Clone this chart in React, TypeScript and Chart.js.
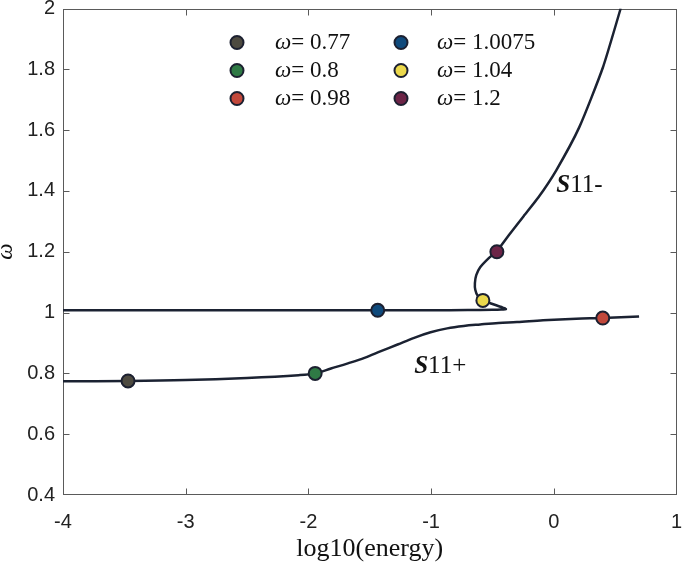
import React, { useEffect, useRef } from 'react';
import { Chart, registerables } from 'chart.js';

Chart.register(...registerables);

// Upper branch (S11-): horizontal at ω≈1.0075, folds back near log10(E)≈-0.4 and rises
const upperX = [-4, -3, -2, -1.435, -1, -0.7, -0.5, -0.43, -0.39, -0.42, -0.5, -0.578, -0.62, -0.64, -0.643, -0.632, -0.6, -0.53, -0.464, -0.367, -0.246, -0.125, 0.02, 0.207, 0.4, 0.545];
const upperY = [1.0075, 1.0075, 1.0075, 1.0075, 1.0078, 1.0082, 1.009, 1.0098, 1.0115, 1.017, 1.028, 1.04, 1.055, 1.075, 1.097, 1.123, 1.149, 1.179, 1.202, 1.254, 1.317, 1.379, 1.468, 1.609, 1.806, 2.0];

// Lower branch (S11+)
const lowerX = [-4, -3.47, -3, -2.5, -2.08, -1.945, -1.816, -1.678, -1.543, -1.409, -1.273, -1.138, -1.004, -0.869, -0.734, -0.6, -0.45, -0.3, -0.087, 0.183, 0.399, 0.695];
const lowerY = [0.774, 0.775, 0.778, 0.785, 0.794, 0.8, 0.816, 0.833, 0.851, 0.873, 0.895, 0.917, 0.935, 0.948, 0.956, 0.961, 0.966, 0.969, 0.975, 0.98, 0.982, 0.987];

// Highlighted points
const markerLabels = ['0.77', '0.8', '0.98', '1.0075', '1.04', '1.2'];
const markerX = [-3.47, -1.945, 0.399, -1.435, -0.578, -0.464];
const markerY = [0.775, 0.8, 0.982, 1.0075, 1.04, 1.2];
const markerColors = ['#4d4a40', '#2f7a45', '#c2483b', '#0f4a7c', '#ebd84c', '#6c2447'];

const xTicks = [-4, -3, -2, -1, 0, 1];
const yTicks = [0.4, 0.6, 0.8, 1, 1.2, 1.4, 1.6, 1.8, 2];

const curveLabels = [
  { bold: 'S', rest: '11-', x: 0.02, y: 1.396 },
  { bold: 'S', rest: '11+', x: -1.138, y: 0.8 },
];

const LINE = '#1b2232';
const EDGE = '#1c2030';
const TEXT = '#222222';
const SERIF = '"Liberation Serif", "Times New Roman", serif';
const SANS = '"Liberation Sans", Arial, sans-serif';

const framePlugin = {
  id: 'frame',
  beforeDatasetsDraw(chart: any) {
    const { ctx, chartArea: a } = chart;
    const xs = chart.scales.x;
    const ys = chart.scales.y;
    const L = Math.round(a.left) + 0.5;
    const R = Math.round(a.right) - 0.5;
    const T = Math.round(a.top) + 0.5;
    const B = Math.round(a.bottom) - 0.5;
    ctx.save();
    ctx.strokeStyle = '#5a5a5a';
    ctx.lineWidth = 1;
    ctx.strokeRect(L, T, R - L, B - T);
    ctx.beginPath();
    for (const v of xTicks) {
      const p = Math.round(xs.getPixelForValue(v)) + 0.5;
      if (p <= L + 1 || p >= R - 1) continue;
      ctx.moveTo(p, B); ctx.lineTo(p, B - 6);
      ctx.moveTo(p, T); ctx.lineTo(p, T + 6);
    }
    for (const v of yTicks) {
      const p = Math.round(ys.getPixelForValue(v)) + 0.5;
      if (p <= T + 1 || p >= B - 1) continue;
      ctx.moveTo(L, p); ctx.lineTo(L + 6, p);
      ctx.moveTo(R, p); ctx.lineTo(R - 6, p);
    }
    ctx.stroke();
    ctx.restore();
  },
};

const overlayPlugin = {
  id: 'overlay',
  afterDraw(chart: any) {
    const { ctx } = chart;
    const xs = chart.scales.x;
    const ys = chart.scales.y;
    ctx.save();
    // legend (2 columns x 3 rows, column-wise)
    const colMarkerX = [237, 401];
    const colTextX = [275, 437];
    const rowY = [42.5, 70.5, 98.5];
    ctx.textBaseline = 'middle';
    markerLabels.forEach((lab, i) => {
      const col = Math.floor(i / 3);
      const row = i % 3;
      const cx = colMarkerX[col];
      const cy = rowY[row];
      ctx.beginPath();
      ctx.arc(cx, cy, 6.5, 0, Math.PI * 2);
      ctx.fillStyle = markerColors[i];
      ctx.fill();
      ctx.lineWidth = 2;
      ctx.strokeStyle = EDGE;
      ctx.stroke();
      let tx = colTextX[col];
      ctx.fillStyle = '#111';
      ctx.textAlign = 'left';
      ctx.font = `italic 23px ${SERIF}`;
      ctx.fillText('ω', tx, cy);
      tx += ctx.measureText('ω').width;
      ctx.font = `23px ${SERIF}`;
      ctx.fillText('= ' + lab, tx, cy);
    });
    // curve labels
    ctx.textBaseline = 'alphabetic';
    for (const c of curveLabels) {
      let px = xs.getPixelForValue(c.x);
      const py = ys.getPixelForValue(c.y);
      ctx.fillStyle = '#111';
      ctx.font = `italic bold 25px ${SERIF}`;
      ctx.fillText(c.bold, px, py);
      px += ctx.measureText(c.bold).width;
      ctx.font = `25px ${SERIF}`;
      ctx.fillText(c.rest, px, py);
    }
    ctx.restore();
  },
};

export default function App() {
  const ref = useRef<HTMLCanvasElement | null>(null);

  useEffect(() => {
    if (!ref.current) return;
    const lineDs = (xs: number[], ys: number[], tension: number) => ({
      type: 'scatter' as const,
      data: xs.map((x, i) => ({ x, y: ys[i] })),
      showLine: true,
      borderColor: LINE,
      borderWidth: 2.5,
      pointRadius: 0,
      pointHoverRadius: 0,
      tension,
      order: 2,
    });
    const markerDs = markerLabels.map((lab, i) => ({
      type: 'scatter' as const,
      label: 'ω= ' + lab,
      data: [{ x: markerX[i], y: markerY[i] }],
      backgroundColor: markerColors[i],
      borderColor: EDGE,
      borderWidth: 2,
      pointRadius: 6.5,
      pointHoverRadius: 6.5,
      order: 0,
    }));

    const chart = new Chart(ref.current, {
      type: 'scatter',
      data: {
        datasets: [
          ...markerDs,
          lineDs(upperX, upperY, 0.2),
          lineDs(lowerX, lowerY, 0.35),
        ] as any,
      },
      options: {
        responsive: false,
        animation: false,
        devicePixelRatio: 1,
        events: [],
        layout: { padding: { top: 8, right: 5, left: 0, bottom: 0 } },
        plugins: { legend: { display: false }, tooltip: { enabled: false } },
        scales: {
          x: {
            type: 'linear',
            min: -4,
            max: 1,
            grid: { display: false, drawTicks: false },
            border: { display: false },
            afterBuildTicks: (s: any) => { s.ticks = xTicks.map((v) => ({ value: v })); },
            afterFit: (s: any) => { s.height = 67; s.paddingLeft = 0; s.paddingRight = 0; },
            ticks: {
              color: TEXT,
              font: { family: SANS, size: 20 },
              padding: 15,
              maxRotation: 0,
              callback: (v: any) => String(Math.round(Number(v) * 100) / 100),
            },
            title: {
              display: true,
              text: 'log10(energy)',
              color: '#111',
              font: { family: SERIF, size: 26, lineHeight: 1 },
              padding: { top: 0, bottom: 0 },
            },
          },
          y: {
            type: 'linear',
            min: 0.4,
            max: 2,
            grid: { display: false, drawTicks: false },
            border: { display: false },
            afterBuildTicks: (s: any) => { s.ticks = yTicks.map((v) => ({ value: v })); },
            afterFit: (s: any) => { s.width = 63; s.paddingTop = 0; s.paddingBottom = 0; },
            ticks: {
              color: TEXT,
              font: { family: SANS, size: 20 },
              padding: 8,
              callback: (v: any) => String(Math.round(Number(v) * 100) / 100),
            },
            title: {
              display: true,
              text: 'ω',
              color: '#111',
              font: { family: SERIF, size: 23, style: 'italic', lineHeight: 1 },
              padding: { top: -6, bottom: 0 },
            },
          },
        },
      },
      plugins: [framePlugin, overlayPlugin],
    });
    return () => chart.destroy();
  }, []);

  return (
    <div style={{ position: 'absolute', left: 0, top: 0, width: 685, height: 562, background: '#fff' }}>
      <canvas ref={ref} width={685} height={562} style={{ display: 'block', width: 685, height: 562 }} />
    </div>
  );
}
